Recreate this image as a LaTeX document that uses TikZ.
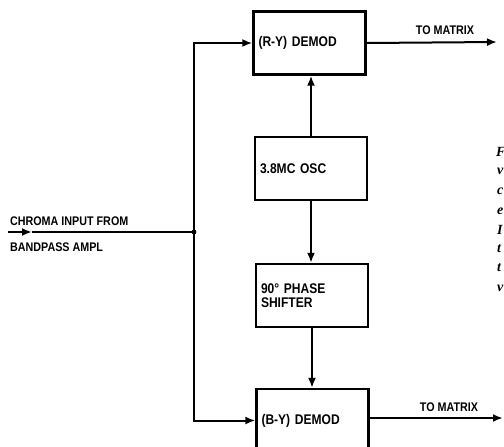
\documentclass[tikz,border=0pt]{standalone}
\usepackage{fontspec}
\setmainfont{Liberation Sans}
\newfontfamily\lbl{Liberation Sans}[FakeStretch=0.86]
\newfontfamily\capfont{Liberation Serif}
\usetikzlibrary{arrows.meta}
\begin{document}
\begin{tikzpicture}[x=1pt,y=-1pt,
  line width=2.2pt,
  blk/.style={draw, line width=2.3pt, minimum width=112pt, minimum height=63pt,
    text width=102pt, align=left, inner xsep=4pt, font=\lbl\bfseries\fontsize{14}{14.5}\selectfont},
  conn/.style={line width=2pt},
  arr/.style={conn, -{Latex[length=10pt,width=8pt]}},
  tag/.style={font=\lbl\bfseries\fontsize{12.5}{13}\selectfont, inner sep=0pt},
  edgeletter/.style={font=\capfont\bfseries\itshape\fontsize{14}{15}\selectfont, anchor=west, inner sep=0pt}]
\useasboundingbox (0,0) rectangle (504,447);
% blocks
\node[blk] (ry) at (309.5,43) {(R-Y) DEMOD};
\node[blk] (osc) at (311,168.5) {3.8MC OSC};
\node[blk] (ps) at (312,295.5) {90\textdegree{} PHASE\\[-1pt]SHIFTER};
\node[blk] (by) at (312.5,420.5) {(B-Y) DEMOD};
% input
\coordinate (in) at (8,232);
\coordinate (inA) at (32,232);
\coordinate (J) at (194,232);
\coordinate (o1) at (497,42);
\coordinate (o2) at (503,418);
\draw[arr] (in) -- (inA);
\draw[conn] (inA) -- (J);
\fill (J) circle (2.4pt);
\draw[arr] (J) |- (ry.west);
\draw[arr] (J) |- (by.west);
\draw[arr] (osc.north) -- (osc.north |- ry.south);
\draw[arr] (osc.south) -- (osc.south |- ps.north);
\draw[arr] (ps.south) -- (ps.south |- by.north);
\draw[arr] (ry.east) -- (o1);
\draw[arr] (by.east |- o2) -- (o2);
% labels
\node[tag] (t1) at (445,30) {TO MATRIX};
\node[tag] (t2) at (449,407) {TO MATRIX};
\node[tag, anchor=west] (c1) at (9,221) {CHROMA INPUT FROM};
\node[tag, anchor=west] (c2) at (9,247) {BANDPASS AMPL};
% cropped caption letters at the right edge
\node[edgeletter] (k1) at (495,152) {F};
\node[edgeletter] (k2) at (496,171) {v};
\node[edgeletter] (k3) at (496,191) {c};
\node[edgeletter] (k4) at (496,211) {e};
\node[edgeletter] (k5) at (496,230) {I};
\node[edgeletter] (k6) at (496,249) {t};
\node[edgeletter] (k7) at (496,268) {t};
\node[edgeletter] (k8) at (496,288) {v};
\end{tikzpicture}
\end{document}
